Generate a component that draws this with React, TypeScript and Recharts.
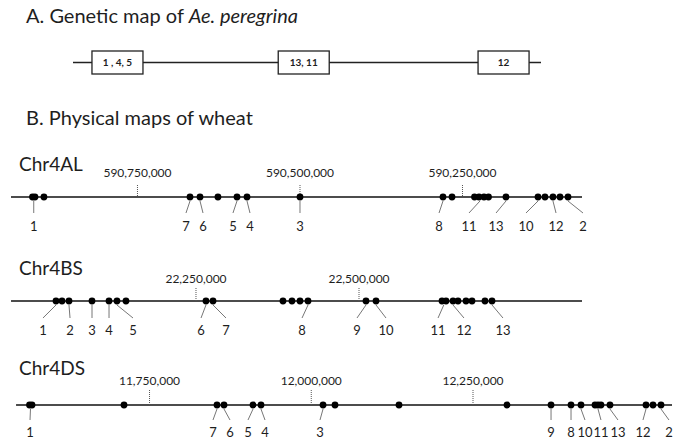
import React from 'react';
import { ComposedChart, XAxis, YAxis, Scatter, ReferenceLine } from 'recharts';

const W = 677;
const H = 444;
const FONT = 'Lato, "Noto Sans", sans-serif';
const INK = '#1e1e1e';

// A. genetic map, positions in cM
const GM_LINE = [0, 100];
const GM_BINS = [
  { cM: 9.5, markers: '1 , 4, 5' },
  { cM: 49.3, markers: '13, 11' },
  { cM: 92, markers: '12' },
];

// B. physical maps, positions in bp
const AL_EXTENT = [590944600, 590066100];
const AL_TICKS = [590750000, 590500000, 590250000];
const AL_DOTS = [
  590911500, 590907700, 590893900, 590669200, 590653800, 590626200, 590596900,
  590581500, 590500000, 590280000, 590266100, 590231500, 590224600, 590216900,
  590210000, 590183100, 590133800, 590123100, 590110800, 590100000, 590087700,
];
const AL_MARKERS = [
  { name: '1', dot: 590909600, label: 590909600 },
  { name: '7', dot: 590669200, label: 590675400 },
  { name: '6', dot: 590653800, label: 590649200 },
  { name: '5', dot: 590596900, label: 590603100 },
  { name: '4', dot: 590581500, label: 590576900 },
  { name: '3', dot: 590500000, label: 590500000 },
  { name: '8', dot: 590280000, label: 590286100 },
  { name: '11', dot: 590223100, label: 590240000 },
  { name: '13', dot: 590183100, label: 590198400 },
  { name: '10', dot: 590133800, label: 590152300 },
  { name: '12', dot: 590110800, label: 590106100 },
  { name: '2', dot: 590087700, label: 590064600 },
];

const BS_EXTENT = [21966300, 22842000];
const BS_TICKS = [22250000, 22500000];
const BS_DOTS = [
  22035300, 22044500, 22055200, 22090500, 22116600, 22128800, 22142600,
  22265300, 22276100, 22383400, 22397200, 22409500, 22421800, 22510700,
  22526100, 22627300, 22633400, 22644200, 22651800, 22664100, 22673300,
  22693200, 22704000,
];
const BS_MARKERS = [
  { name: '1', dot: 22035300, label: 22015300 },
  { name: '2', dot: 22055200, label: 22056800 },
  { name: '3', dot: 22090500, label: 22090500 },
  { name: '4', dot: 22116600, label: 22116600 },
  { name: '5', dot: 22128800, label: 22153400 },
  { name: '6', dot: 22265300, label: 22257700 },
  { name: '7', dot: 22276100, label: 22296000 },
  { name: '8', dot: 22421800, label: 22412600 },
  { name: '9', dot: 22510700, label: 22496900 },
  { name: '10', dot: 22526100, label: 22541400 },
  { name: '11', dot: 22630000, label: 22621200 },
  { name: '12', dot: 22644200, label: 22661000 },
  { name: '13', dot: 22704000, label: 22720800 },
];

const DS_EXTENT = [11543700, 12557600];
const DS_TICKS = [11750000, 12000000, 12250000];
const DS_DOTS = [
  11564500, 11568400, 11710600, 11854300, 11865100, 11910000, 11922300,
  12018200, 12036700, 12135600, 12302600, 12370600, 12401500, 12416900,
  12438600, 12443200, 12447800, 12461700, 12517400, 12528200, 12540600,
];
const DS_MARKERS = [
  { name: '1', dot: 11566000, label: 11565300 },
  { name: '7', dot: 11854300, label: 11848100 },
  { name: '6', dot: 11865100, label: 11874400 },
  { name: '5', dot: 11910000, label: 11902200 },
  { name: '4', dot: 11922300, label: 11928500 },
  { name: '3', dot: 12018200, label: 12013500 },
  { name: '9', dot: 12370600, label: 12370600 },
  { name: '8', dot: 12401500, label: 12401500 },
  { name: '10', dot: 12416900, label: 12423100 },
  { name: '11', dot: 12443200, label: 12447800 },
  { name: '13', dot: 12461700, label: 12474100 },
  { name: '12', dot: 12517400, label: 12512700 },
  { name: '2', dot: 12540600, label: 12552900 },
];

// layout rows (vertical, px from top) and visible ranges of each x axis
const TRACKS = [
  {
    id: 'al', name: 'Chr4AL', domain: [589920000, 590961500], reversed: true,
    extent: AL_EXTENT, ticks: AL_TICKS, dots: AL_DOTS, markers: AL_MARKERS,
    nameY: 171, tickLabelY: 177, tickTop: 185, lineY: 197, leadTop: 201, leadBottom: 213, labelY: 231,
  },
  {
    id: 'bs', name: 'Chr4BS', domain: [21949400, 22987700], reversed: false,
    extent: BS_EXTENT, ticks: BS_TICKS, dots: BS_DOTS, markers: BS_MARKERS,
    nameY: 275, tickLabelY: 283, tickTop: 288, lineY: 301, leadTop: 305, leadBottom: 318, labelY: 335,
  },
  {
    id: 'ds', name: 'Chr4DS', domain: [11518900, 12565300], reversed: false,
    extent: DS_EXTENT, ticks: DS_TICKS, dots: DS_DOTS, markers: DS_MARKERS,
    nameY: 375, tickLabelY: 385, tickTop: 390, lineY: 405, leadTop: 409, leadBottom: 420, labelY: 437,
  },
];

const GM_Y = 62.5;

const dotShape = (p: any) => <circle cx={p.cx} cy={p.cy} r={3.4} fill="#000" />;

const textShape = (size: number) => (p: any) => (
  <text x={p.cx} y={p.cy} textAnchor="middle" fontSize={size} fontFamily={FONT} fill={INK}>
    {p.payload?.text}
  </text>
);

const binShape = (p: any) => (
  <g>
    <rect x={p.cx - 25.5} y={p.cy - 11.5} width={51} height={23} fill="#fff" stroke="#222" strokeWidth={1.3} />
    <text x={p.cx} y={p.cy + 3.5} textAnchor="middle" fontSize={10} fontWeight={700} fontFamily={FONT} fill={INK}>
      {p.payload?.text}
    </text>
  </g>
);

const fmt = (v: number) => v.toLocaleString('en-US');

export default function App() {
  return (
    <div style={{ position: 'absolute', left: 0, top: 0, width: W, height: H, background: '#fff' }}>
      <ComposedChart width={W} height={H} margin={{ top: 0, right: 0, bottom: 0, left: 0 }}>
        <YAxis type="number" dataKey="y" domain={[0, H]} reversed hide allowDataOverflow />
        <XAxis xAxisId="gm" type="number" dataKey="x" domain={[-15.6, 129.06]} hide allowDataOverflow />
        {TRACKS.map((t) => (
          <XAxis
            key={t.id}
            xAxisId={t.id}
            type="number"
            dataKey="x"
            domain={t.domain}
            reversed={t.reversed}
            hide
            allowDataOverflow
          />
        ))}

        <ReferenceLine
          xAxisId="gm"
          segment={[{ x: GM_LINE[0], y: GM_Y }, { x: GM_LINE[1], y: GM_Y }]}
          stroke="#222"
          strokeWidth={1.4}
        />
        <Scatter
          xAxisId="gm"
          data={GM_BINS.map((b) => ({ x: b.cM, y: GM_Y, text: b.markers }))}
          shape={binShape}
          isAnimationActive={false}
        />

        {TRACKS.flatMap((t) => [
          <ReferenceLine
            key={t.id + '-line'}
            xAxisId={t.id}
            segment={[{ x: t.extent[0], y: t.lineY }, { x: t.extent[1], y: t.lineY }]}
            stroke="#111"
            strokeWidth={1.6}
          />,
          ...t.ticks.map((v) => (
            <ReferenceLine
              key={t.id + '-tick-' + v}
              xAxisId={t.id}
              segment={[{ x: v, y: t.tickTop }, { x: v, y: t.lineY }]}
              stroke="#555"
              strokeWidth={1}
              strokeDasharray="1 1"
            />
          )),
          ...t.markers.map((m) => (
            <ReferenceLine
              key={t.id + '-lead-' + m.name}
              xAxisId={t.id}
              segment={[{ x: m.dot, y: t.leadTop }, { x: m.label, y: t.leadBottom }]}
              stroke="#777"
              strokeWidth={1}
            />
          )),
          <Scatter
            key={t.id + '-ticklabels'}
            xAxisId={t.id}
            data={t.ticks.map((v) => ({ x: v, y: t.tickLabelY, text: fmt(v) }))}
            shape={textShape(12)}
            isAnimationActive={false}
          />,
          <Scatter
            key={t.id + '-dots'}
            xAxisId={t.id}
            data={t.dots.map((v) => ({ x: v, y: t.lineY }))}
            shape={dotShape}
            isAnimationActive={false}
          />,
          <Scatter
            key={t.id + '-labels'}
            xAxisId={t.id}
            data={t.markers.map((m) => ({ x: m.label, y: t.labelY, text: m.name }))}
            shape={textShape(13)}
            isAnimationActive={false}
          />,
        ])}
      </ComposedChart>

      <svg width={W} height={H} style={{ position: 'absolute', left: 0, top: 0, pointerEvents: 'none' }}>
        <text x={26} y={23} fontSize={20} fontFamily={FONT} fill={INK}>
          A. Genetic map of <tspan fontStyle="italic">Ae. peregrina</tspan>
        </text>
        <text x={26} y={125} fontSize={20} fontFamily={FONT} fill={INK}>
          B. Physical maps of wheat
        </text>
        {TRACKS.map((t) => (
          <text key={t.id} x={19} y={t.nameY} fontSize={19} fontFamily={FONT} fill={INK}>
            {t.name}
          </text>
        ))}
      </svg>
    </div>
  );
}
